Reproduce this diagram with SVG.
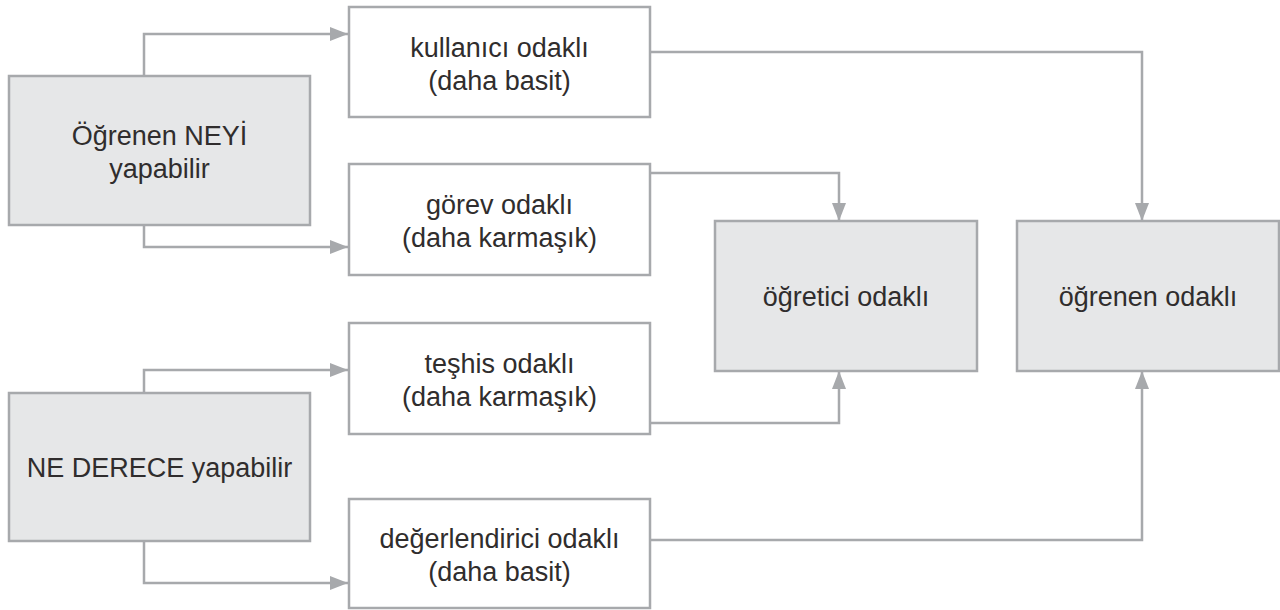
<svg xmlns="http://www.w3.org/2000/svg" width="1280" height="610" viewBox="0 0 1280 610">
  <style>
    .box { fill: #ffffff; stroke: #a7a9ac; stroke-width: 2.5; }
    .box.grey { fill: #e6e7e8; }
    .lbl { font-family: "Liberation Sans", Arial, sans-serif; font-size: 27px; fill: #302d2d; text-anchor: middle; }
    .wire { fill: none; stroke: #a7a9ac; stroke-width: 2.5; marker-end: url(#arrow); }
  </style>
  <defs>
    <marker id="arrow" markerUnits="userSpaceOnUse" viewBox="0 0 18 14" refX="18" refY="7" markerWidth="18" markerHeight="14" orient="auto">
      <path d="M0,0 L18,7 L0,14 Z" fill="#a7a9ac"/>
    </marker>
  </defs>
  <rect width="1280" height="610" fill="#ffffff"/>

  <g id="connectors">
    <path class="wire" d="M144,76 V34 H348"/>
    <path class="wire" d="M144,225 V247 H348"/>
    <path class="wire" d="M144,393 V370 H348"/>
    <path class="wire" d="M144,541 V583 H348"/>
    <path class="wire" d="M650,52 H1142 V221"/>
    <path class="wire" d="M650,173 H839 V221"/>
    <path class="wire" d="M650,423 H839 V371"/>
    <path class="wire" d="M650,540 H1142 V371"/>
  </g>

  <g id="ogrenen-neyi">
    <rect class="box grey" x="9" y="76" width="301" height="149"/>
    <text class="lbl" x="159.5" y="145">Öğrenen NEYİ</text>
    <text class="lbl" x="159.5" y="178">yapabilir</text>
  </g>
  <g id="ne-derece">
    <rect class="box grey" x="9" y="393" width="301" height="148"/>
    <text class="lbl" x="159.5" y="477">NE DERECE yapabilir</text>
  </g>
  <g id="kullanici">
    <rect class="box" x="349" y="7" width="301" height="110"/>
    <text class="lbl" x="499.5" y="57">kullanıcı odaklı</text>
    <text class="lbl" x="499.5" y="90">(daha basit)</text>
  </g>
  <g id="gorev">
    <rect class="box" x="349" y="164" width="301" height="111"/>
    <text class="lbl" x="499.5" y="214">görev odaklı</text>
    <text class="lbl" x="499.5" y="247">(daha karmaşık)</text>
  </g>
  <g id="teshis">
    <rect class="box" x="349" y="323" width="301" height="111"/>
    <text class="lbl" x="499.5" y="373">teşhis odaklı</text>
    <text class="lbl" x="499.5" y="406">(daha karmaşık)</text>
  </g>
  <g id="degerlendirici">
    <rect class="box" x="349" y="499" width="301" height="109"/>
    <text class="lbl" x="499.5" y="548">değerlendirici odaklı</text>
    <text class="lbl" x="499.5" y="581">(daha basit)</text>
  </g>
  <g id="ogretici">
    <rect class="box grey" x="715" y="221" width="262" height="150"/>
    <text class="lbl" x="846" y="306">öğretici odaklı</text>
  </g>
  <g id="ogrenen">
    <rect class="box grey" x="1017" y="221" width="262" height="150"/>
    <text class="lbl" x="1148" y="306">öğrenen odaklı</text>
  </g>
</svg>
